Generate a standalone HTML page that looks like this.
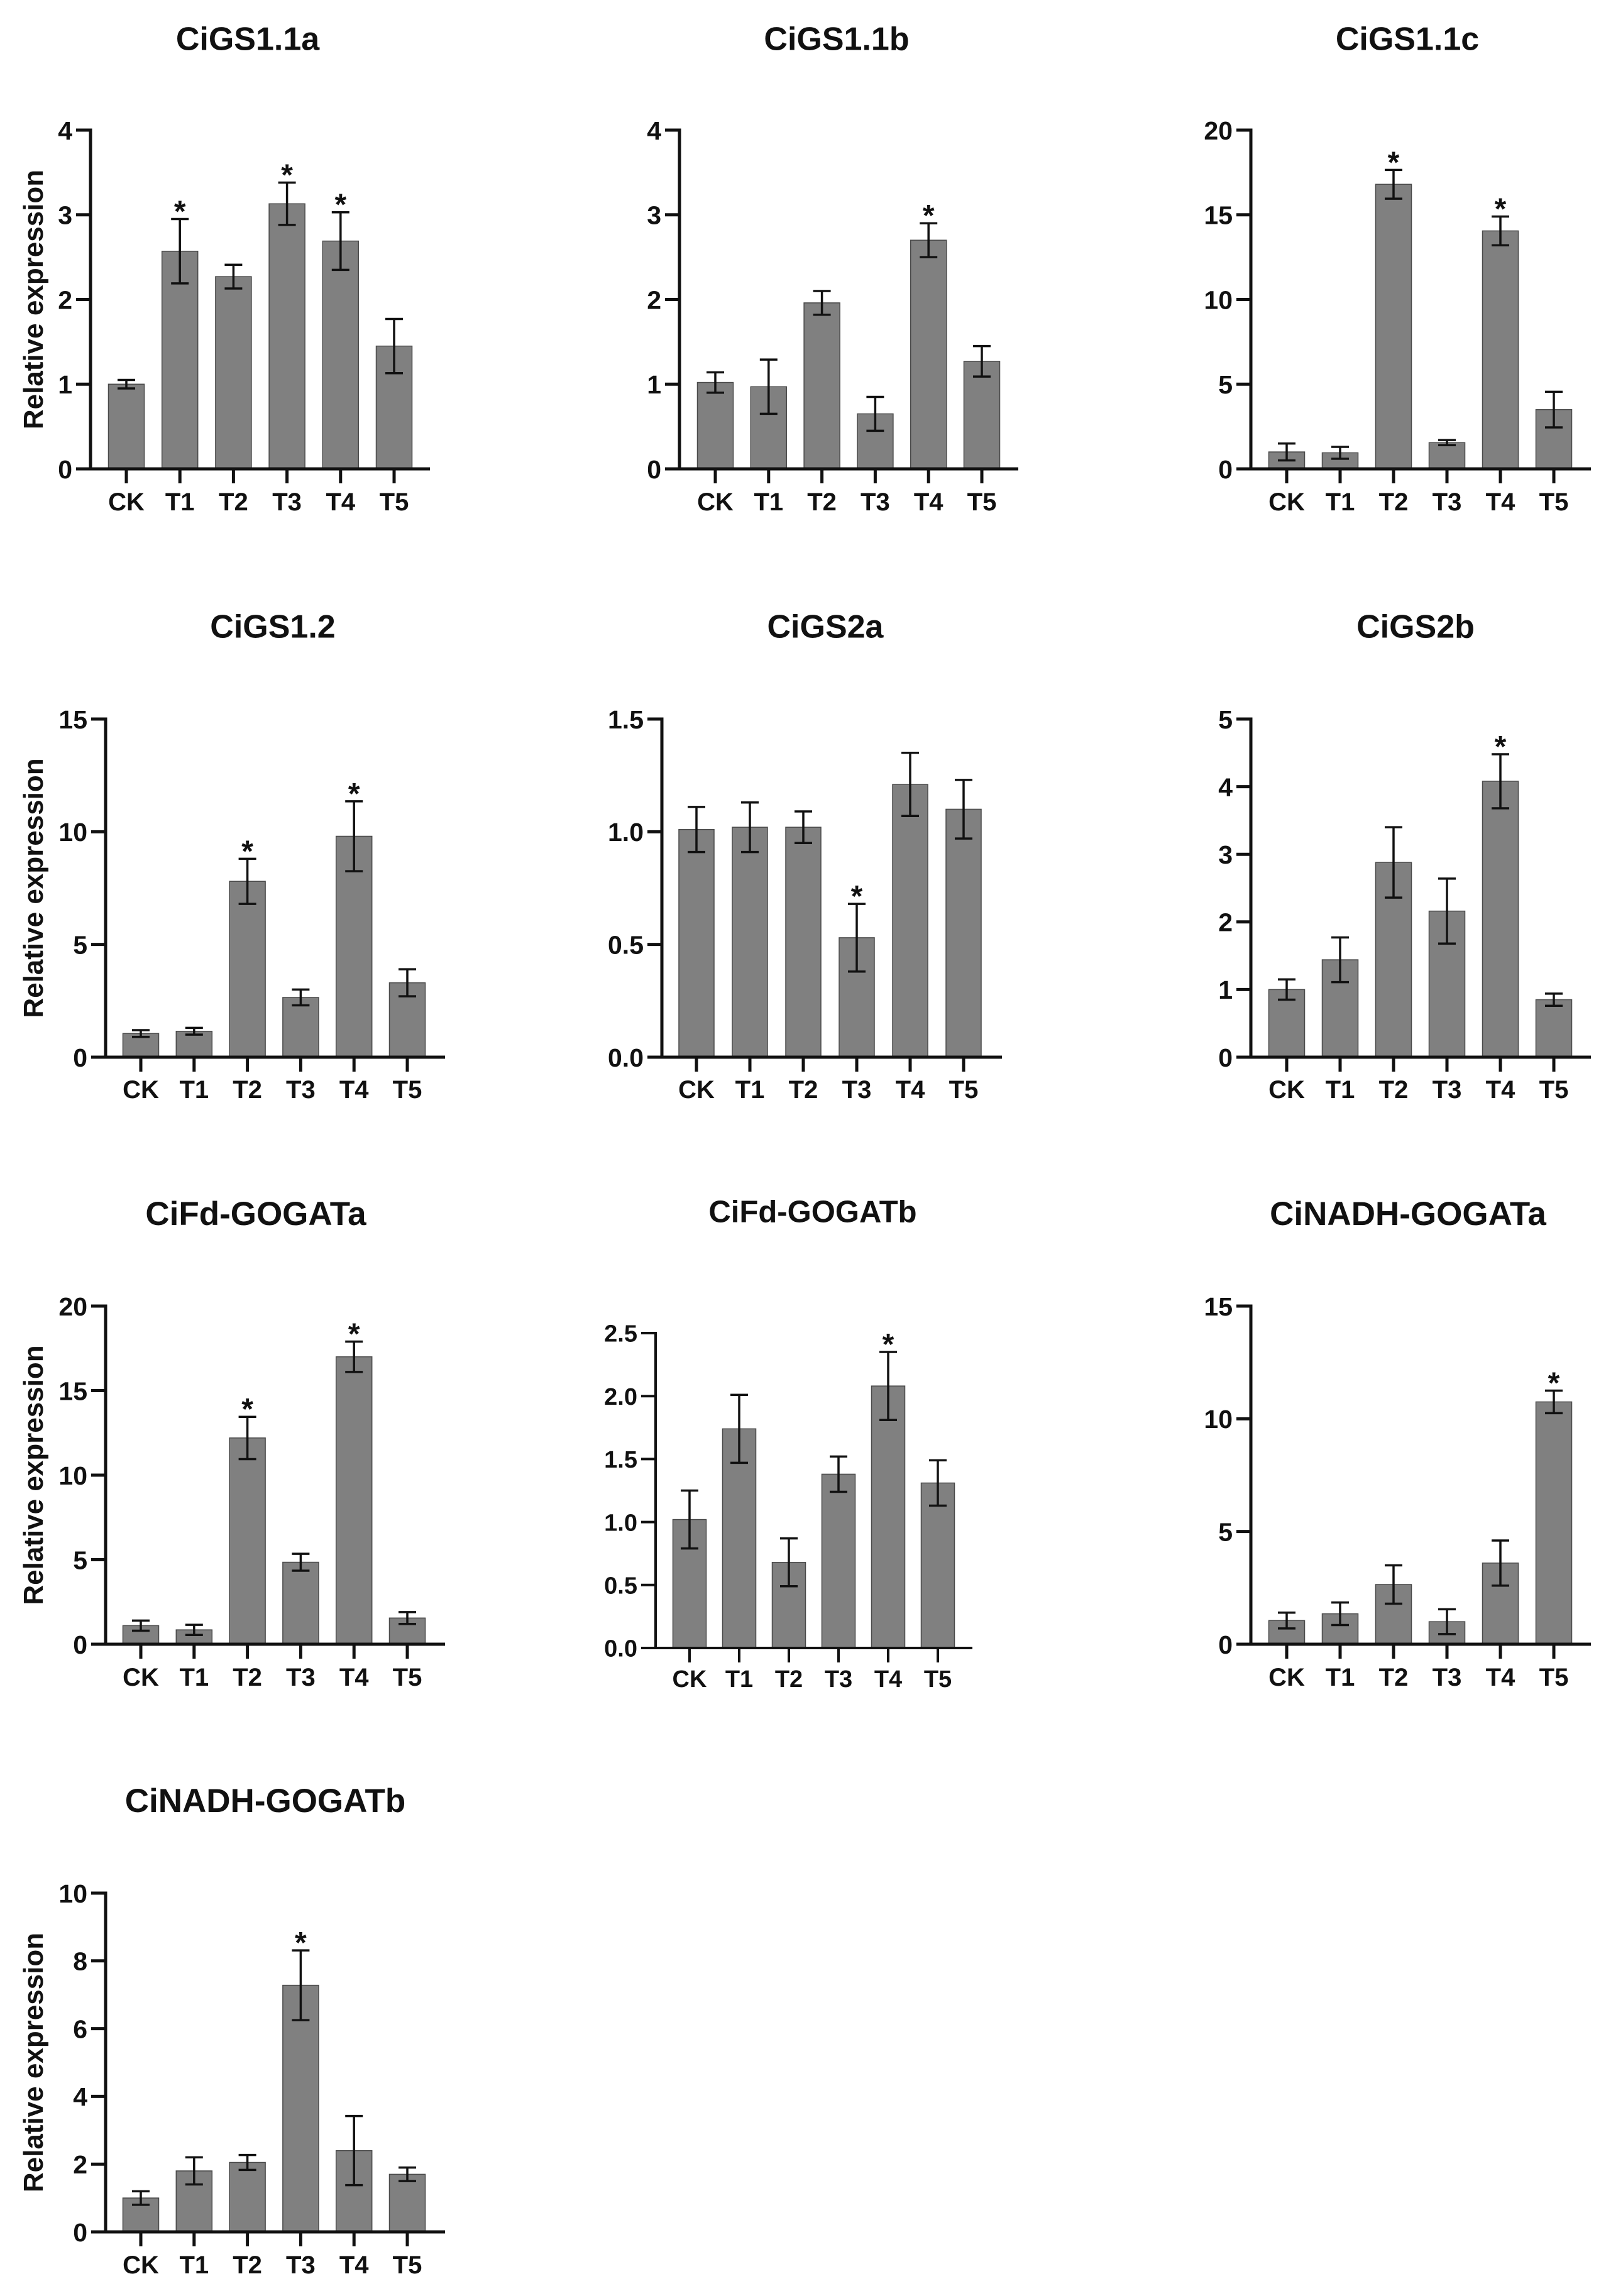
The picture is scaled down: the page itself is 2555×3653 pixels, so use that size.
<!DOCTYPE html>
<html lang="en">
<head>
<meta charset="utf-8">
<title>Relative expression of GS and GOGAT genes</title>
<style>
  html, body { margin: 0; padding: 0; background: #fff; }
  svg { display: block; font-family: "Liberation Sans", Arial, sans-serif; font-weight: bold; }
</style>
</head>
<body>
<svg id="figure" xmlns="http://www.w3.org/2000/svg" width="2555" height="3653" viewBox="0 0 2555 3653"></svg>
<script>
const categories = ['CK', 'T1', 'T2', 'T3', 'T4', 'T5'];
const geneNames = ['CiGS1.1a', 'CiGS1.1b', 'CiGS1.1c', 'CiGS1.2', 'CiGS2a', 'CiGS2b', 'CiFd-GOGATa', 'CiFd-GOGATb', 'CiNADH-GOGATa', 'CiNADH-GOGATb'];

const means1 = [1.0, 2.57, 2.27, 3.13, 2.69, 1.45];
const errors1 = [0.05, 0.38, 0.14, 0.25, 0.34, 0.32];
const ticks1 = ['0', '1', '2', '3', '4'];
const stars1 = ['T1', 'T3', 'T4'];

const means2 = [1.02, 0.97, 1.96, 0.65, 2.7, 1.27];
const errors2 = [0.12, 0.32, 0.14, 0.2, 0.2, 0.18];
const ticks2 = ['0', '1', '2', '3', '4'];
const stars2 = ['T4'];

const means3 = [1.0, 0.95, 16.8, 1.55, 14.05, 3.5];
const errors3 = [0.5, 0.35, 0.85, 0.15, 0.85, 1.05];
const ticks3 = ['0', '5', '10', '15', '20'];
const stars3 = ['T2', 'T4'];

const means4 = [1.05, 1.15, 7.8, 2.65, 9.8, 3.3];
const errors4 = [0.15, 0.15, 1.0, 0.35, 1.55, 0.6];
const ticks4 = ['0', '5', '10', '15'];
const stars4 = ['T2', 'T4'];

const means5 = [1.01, 1.02, 1.02, 0.53, 1.21, 1.1];
const errors5 = [0.1, 0.11, 0.07, 0.15, 0.14, 0.13];
const ticks5 = ['0.0', '0.5', '1.0', '1.5'];
const stars5 = ['T3'];

const means6 = [1.0, 1.44, 2.88, 2.16, 4.08, 0.85];
const errors6 = [0.15, 0.33, 0.52, 0.48, 0.4, 0.09];
const ticks6 = ['0', '1', '2', '3', '4', '5'];
const stars6 = ['T4'];

const means7 = [1.1, 0.85, 12.2, 4.85, 17.0, 1.55];
const errors7 = [0.3, 0.3, 1.25, 0.5, 0.9, 0.35];
const ticks7 = ['0', '5', '10', '15', '20'];
const stars7 = ['T2', 'T4'];

const means8 = [1.02, 1.74, 0.68, 1.38, 2.08, 1.31];
const errors8 = [0.23, 0.27, 0.19, 0.14, 0.27, 0.18];
const ticks8 = ['0.0', '0.5', '1.0', '1.5', '2.0', '2.5'];
const stars8 = ['T4'];

const means9 = [1.05, 1.35, 2.65, 1.0, 3.6, 10.75];
const errors9 = [0.35, 0.5, 0.85, 0.55, 1.0, 0.5];
const ticks9 = ['0', '5', '10', '15'];
const stars9 = ['T5'];

const means10 = [1.0, 1.8, 2.05, 7.28, 2.4, 1.7];
const errors10 = [0.2, 0.4, 0.22, 1.03, 1.02, 0.2];
const ticks10 = ['0', '2', '4', '6', '8', '10'];
const stars10 = ['T3'];

const allMeans = [means1, means2, means3, means4, means5, means6, means7, means8, means9, means10];
const allErrors = [errors1, errors2, errors3, errors4, errors5, errors6, errors7, errors8, errors9, errors10];
const allTicks = [ticks1, ticks2, ticks3, ticks4, ticks5, ticks6, ticks7, ticks8, ticks9, ticks10];
const allStars = [stars1, stars2, stars3, stars4, stars5, stars6, stars7, stars8, stars9, stars10];

/* Frame geometry of each panel (layout only, not data). */
const frames = [
  { left: 144, right: 684, base: 746, top: 207, first: 201, last: 627, bar: 57, titleX: 394, titleY: 61, titleSize: 52, yLabel: true, stroke: 5, tickFont: 41, catFont: 40, catDrop: 66 },
  { left: 1081, right: 1620, base: 746, top: 207, first: 1138, last: 1562, bar: 57, titleX: 1331, titleY: 61, titleSize: 52, yLabel: false, stroke: 5, tickFont: 41, catFont: 40, catDrop: 66 },
  { left: 1990, right: 2531, base: 746, top: 207, first: 2047, last: 2472, bar: 57, titleX: 2239, titleY: 61, titleSize: 52, yLabel: false, stroke: 5, tickFont: 41, catFont: 40, catDrop: 66 },
  { left: 168, right: 708, base: 1682, top: 1144, first: 224, last: 648, bar: 57, titleX: 434, titleY: 996, titleSize: 52, yLabel: true, stroke: 5, tickFont: 41, catFont: 40, catDrop: 65 },
  { left: 1053, right: 1594, base: 1682, top: 1144, first: 1108, last: 1533, bar: 56, titleX: 1313, titleY: 996, titleSize: 52, yLabel: false, stroke: 5, tickFont: 41, catFont: 40, catDrop: 65 },
  { left: 1990, right: 2531, base: 1682, top: 1144, first: 2047, last: 2472, bar: 57, titleX: 2252, titleY: 996, titleSize: 52, yLabel: false, stroke: 5, tickFont: 41, catFont: 40, catDrop: 65 },
  { left: 168, right: 708, base: 2616, top: 2078, first: 224, last: 648, bar: 57, titleX: 407, titleY: 1930, titleSize: 53, yLabel: true, stroke: 5, tickFont: 41, catFont: 40, catDrop: 66 },
  { left: 1043, right: 1547, base: 2622, top: 2121, first: 1097, last: 1492, bar: 53, titleX: 1293, titleY: 1927, titleSize: 49, yLabel: false, stroke: 4, tickFont: 38, catFont: 38, catDrop: 62 },
  { left: 1990, right: 2531, base: 2616, top: 2078, first: 2047, last: 2472, bar: 57, titleX: 2240, titleY: 1930, titleSize: 53, yLabel: false, stroke: 5, tickFont: 41, catFont: 40, catDrop: 66 },
  { left: 168, right: 708, base: 3551, top: 3012, first: 224, last: 648, bar: 57, titleX: 422, titleY: 2864, titleSize: 53, yLabel: true, stroke: 5, tickFont: 41, catFont: 40, catDrop: 66 }
];

const svg = document.getElementById('figure');
const NS = 'http://www.w3.org/2000/svg';

function make(tag, attrs, parent) {
  const el = document.createElementNS(NS, tag);
  for (const key of Object.keys(attrs)) el.setAttribute(key, attrs[key]);
  parent.appendChild(el);
  return el;
}

function yScale(frame, tickLabels) {
  const maxValue = parseFloat(tickLabels[tickLabels.length - 1]);
  return function (v) { return frame.base - (v / maxValue) * (frame.base - frame.top); };
}

function xScale(frame) {
  const step = (frame.last - frame.first) / (categories.length - 1);
  return function (i) { return frame.first + i * step; };
}

geneNames.forEach(function (gene, p) {
  const frame = frames[p];
  const means = allMeans[p];
  const errors = allErrors[p];
  const tickLabels = allTicks[p];
  const stars = allStars[p];
  const y = yScale(frame, tickLabels);
  const x = xScale(frame);
  const sw = frame.stroke;

  const panel = make('g', {}, svg);
  
  

  const title = make('text', { x: frame.titleX, y: frame.titleY + frame.titleSize * 0.36, 'text-anchor': 'middle', 'font-size': frame.titleSize, fill: '#111' }, panel);
  title.textContent = gene;
  
  

  if (frame.yLabel) {
    const cy = (frame.base + frame.top) / 2;
    const label = make('text', { x: 0, y: 0, transform: 'translate(68,' + cy + ') rotate(-90)', 'text-anchor': 'middle', 'font-size': 44, fill: '#111' }, panel);
    label.textContent = 'Relative expression';
    
    
  }

  categories.forEach(function (cat, i) {
    const cx = x(i);
    const top = y(means[i]);
    const bar = make('rect', { x: cx - frame.bar / 2, y: top, width: frame.bar, height: frame.base - top, fill: '#808080', stroke: '#4a4a4a', 'stroke-width': 1.5 }, panel);
    
    

    const hi = y(means[i] + errors[i]);
    const lo = y(means[i] - errors[i]);
    const err = make('path', {
      d: 'M' + cx + ' ' + hi + 'V' + lo + 'M' + (cx - 14) + ' ' + hi + 'H' + (cx + 14) + 'M' + (cx - 14) + ' ' + lo + 'H' + (cx + 14),
      fill: 'none', stroke: '#111', 'stroke-width': 3.5
    }, panel);
    
    

    const tick = make('line', { x1: cx, x2: cx, y1: frame.base, y2: frame.base + 23, stroke: '#111', 'stroke-width': sw }, panel);
    
    

    const lab = make('text', { x: cx, y: frame.base + frame.catDrop, 'text-anchor': 'middle', 'font-size': frame.catFont, fill: '#111' }, panel);
    lab.textContent = cat;
    
    

    if (stars.indexOf(cat) !== -1) {
      const star = make('text', { x: cx, y: hi + 4, 'text-anchor': 'middle', 'font-size': 48, fill: '#111' }, panel);
      star.textContent = '*';
      
      
    }
  });

  const yAxis = make('line', { x1: frame.left, x2: frame.left, y1: frame.top - sw / 2, y2: frame.base + sw / 2, stroke: '#111', 'stroke-width': sw }, panel);
  
  

  const xAxis = make('line', { x1: frame.left - 23, x2: frame.right, y1: frame.base, y2: frame.base, stroke: '#111', 'stroke-width': sw }, panel);
  
  

  tickLabels.forEach(function (t) {
    const ty = y(parseFloat(t));
    const tk = make('line', { x1: frame.left - 23, x2: frame.left, y1: ty, y2: ty, stroke: '#111', 'stroke-width': sw }, panel);
    
    

    const lab = make('text', { x: frame.left - 29, y: ty + frame.tickFont * 0.36, 'text-anchor': 'end', 'font-size': frame.tickFont, fill: '#111' }, panel);
    lab.textContent = t;
    
    
  });
});
</script>
</body>
</html>
